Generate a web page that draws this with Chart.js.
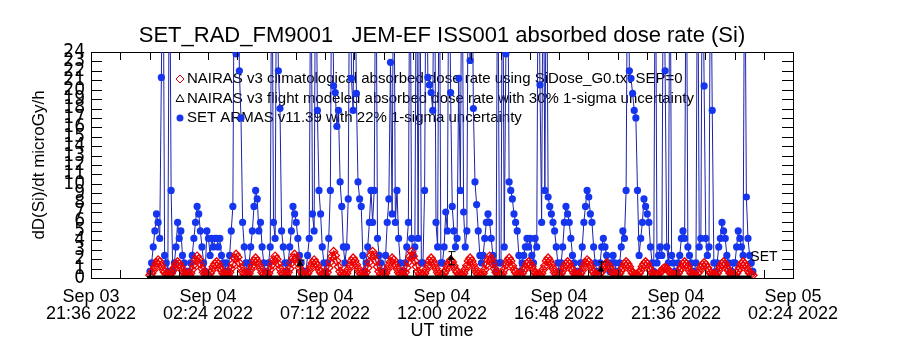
<!DOCTYPE html>
<html><head><meta charset="utf-8">
<script src="https://cdn.jsdelivr.net/npm/chart.js@4.4.0/dist/chart.umd.min.js"></script>
<style>html,body{margin:0;padding:0;background:#fff}#wrap{width:900px;height:350px;position:relative}</style>
</head><body><div id="wrap"><canvas id="c"></canvas></div>
<script>
const chartTitle = 'SET_RAD_FM9001   JEM-EF ISS001 absorbed dose rate (Si)';
const yAxisTitle = 'dD(Si)/dt microGy/h';
const xAxisTitle = 'UT time';
const xTickLabels = [['Sep 03','21:36 2022'],['Sep 04','02:24 2022'],['Sep 04','07:12 2022'],['Sep 04','12:00 2022'],['Sep 04','16:48 2022'],['Sep 04','21:36 2022'],['Sep 05','02:24 2022']];
const seriesNames = ['NAIRAS v3 climatological absorbed dose rate using SiDose_G0.txt SEP=0',
  'NAIRAS v3 flight modeled absorbed dose rate with 30% 1-sigma uncertainty',
  'SET ARMAS v11.39 with 22% 1-sigma uncertainty'];
const endLabel = 'SET';

// x in hours after Sep 03 21:36 UT; samples every 4 minutes
const sampleStartHour = 2.42;
const sampleStepHours = 4 / 60;

const climatologicalDose = [
 0.3,0.5,0.8,1.2,1.6,1.9,1.7,1.3,0.9,0.6,0.4,0.3,
 0.3,0.5,0.8,1.1,1.5,1.7,1.5,1.2,0.8,0.5,0.4,0.3,
 0.3,0.5,0.9,1.4,1.9,2.3,2.0,1.5,1.0,0.6,0.4,0.3,
 0.3,0.5,0.8,1.2,1.5,1.7,1.5,1.1,0.8,0.5,0.4,0.3,
 0.3,0.6,1.0,1.5,2.1,2.5,2.2,1.6,1.1,0.7,0.4,0.3,
 0.3,0.5,0.9,1.3,1.8,2.1,1.8,1.4,1.0,0.6,0.4,0.3,
 0.3,0.5,0.9,1.4,1.9,2.3,2.0,1.5,1.0,0.6,0.4,0.3,
 0.3,0.6,1.0,1.6,2.1,2.5,2.1,1.6,1.1,0.7,0.4,0.3,
 0.3,0.5,0.8,1.2,1.6,1.9,1.6,1.3,0.9,0.6,0.4,0.3,
 0.3,0.6,1.1,1.7,2.3,2.8,2.4,1.8,1.2,0.7,0.4,0.3,
 0.3,0.5,0.9,1.3,1.8,2.1,1.8,1.4,1.0,0.6,0.4,0.3,
 0.3,0.6,1.1,1.7,2.4,2.8,2.4,1.8,1.2,0.7,0.4,0.3,
 0.3,0.5,0.9,1.3,1.7,2.1,1.9,1.4,1.0,0.6,0.4,0.3,
 0.3,0.6,1.1,1.7,2.3,2.8,2.3,1.8,1.2,0.7,0.4,0.3,
 0.3,0.5,0.9,1.3,1.8,2.1,1.8,1.4,1.0,0.6,0.4,0.3,
 0.3,0.5,0.8,1.2,1.6,1.9,1.7,1.3,0.9,0.6,0.4,0.3,
 0.3,0.5,0.9,1.3,1.8,2.1,1.8,1.4,1.0,0.6,0.4,0.3,
 0.3,0.5,0.9,1.4,1.9,2.3,2.0,1.5,1.0,0.6,0.4,0.3,
 0.3,0.5,0.9,1.4,1.8,2.1,1.8,1.3,0.9,0.6,0.4,0.3,
 0.3,0.5,0.8,1.1,1.5,1.7,1.5,1.2,0.8,0.5,0.4,0.3,
 0.3,0.5,0.9,1.3,1.8,2.1,1.8,1.4,1.0,0.6,0.4,0.3,
 0.3,0.5,0.8,1.2,1.5,1.7,1.5,1.1,0.8,0.5,0.4,0.3,
 0.3,0.5,0.8,1.2,1.6,1.9,1.7,1.3,0.9,0.6,0.4,0.3,
 0.3,0.5,0.7,1.1,1.4,1.6,1.4,1.1,0.8,0.5,0.4,0.3,
 0.3,0.5,0.8,1.1,1.5,1.7,1.5,1.2,0.8,0.5,0.4,0.3,
 0.3,0.5,0.8,1.2,1.5,1.7,1.5,1.1,0.8,0.5,0.4,0.3,
 0.3,0.4,0.6,0.8,1.0,1.1,1.0,0.8,0.6,0.4,0.3,0.3,
 0.3,0.5,0.8,1.1,1.5,1.7,1.5,1.2,0.8,0.5,0.4,0.3,
 0.3,0.5,0.7,1.1,1.4,1.6,1.4,1.1,0.8,0.5,0.4,0.3,
 0.3,0.5,0.8,1.2,1.5,1.7,1.5,1.1,0.8,0.5,0.4,0.3,
 0.3,0.5,0.8,1.1,1.5,1.7,1.5,1.2,0.8,0.5,0.4,0.3
];

const armasDose = [
 0.7,1.6,3.3,5.0,6.8,5.9,4.2,21.3,40,2.4,1.6,0.7,
 40,9.3,0.7,1.6,3.3,5.9,4.2,5.0,2.4,1.6,0.7,0.7,
 0.7,1.6,2.4,4.2,5.9,7.6,6.8,5.0,3.3,1.6,0.7,5.0,
 4.2,2.4,4.2,3.3,4.2,4.2,3.3,4.2,2.4,1.6,0.7,1.6,
 0.7,2.4,5.0,7.6,40,23.8,40,22.0,17.0,5.9,3.3,1.6,
 0.7,1.6,3.3,5.0,7.6,9.3,8.4,5.0,5.9,3.3,1.6,0.7,
 0.7,1.6,3.3,40,5.9,4.2,40,22.0,18.0,5.0,3.3,1.6,
 0.7,1.6,3.3,5.0,7.6,6.8,5.9,4.2,2.4,1.6,0.7,0.7,
 0.7,2.4,4.2,40,6.8,5.0,40,17.8,9.3,6.8,3.3,1.6,
 0.7,1.6,4.2,9.3,40,20.4,19.7,16.1,17.8,10.2,7.6,3.3,
 1.6,3.3,8.4,40,21.2,17.8,40,19.6,10.2,8.4,7.6,2.4,
 0.7,1.6,3.3,5.9,9.3,5.9,9.3,40,4.2,2.4,1.6,0.7,
 0.7,2.4,5.9,8.4,22.9,6.8,40,5.9,9.3,4.2,1.6,0.7,
 0.7,1.6,3.3,5.9,40,4.2,2.4,3.3,40,4.2,40,1.6,
 1.6,9.3,40,21.3,20.5,19.7,17.8,40,5.9,3.3,40,1.6,
 1.6,3.3,7.0,5.0,40,19.7,7.6,5.0,3.3,4.2,21.2,9.3,
 40,7.0,3.3,5.0,40,23.1,40,18.0,10.2,7.8,5.0,2.4,
 1.6,2.4,4.2,5.9,6.8,5.9,4.2,2.4,1.6,0.7,40,1.6,
 1.6,40,3.3,23.8,40,10.2,9.3,8.4,6.8,5.9,5.0,2.4,
 0.7,1.6,2.4,3.3,4.2,3.3,4.2,2.4,1.6,4.2,3.3,40,
 20.5,5.9,40,9.3,40,8.6,7.6,6.8,5.9,5.0,3.3,1.6,
 0.7,1.6,3.3,5.9,7.6,6.8,5.9,4.2,2.4,1.6,0.7,0.7,
 0.7,1.6,3.3,5.9,7.6,9.3,8.6,6.8,5.9,3.3,1.6,0.7,
 0.7,1.6,3.3,4.2,3.3,2.4,1.6,0.7,1.6,2.4,1.6,0.7,
 0.7,1.6,3.3,5.0,4.2,9.3,40,22.0,21.2,19.6,17.8,17.0,
 9.3,2.4,4.2,5.9,8.4,7.6,6.8,5.9,3.3,1.6,0.7,40,
 1.6,2.4,3.3,2.4,40,22.0,3.3,1.6,40,2.4,1.6,0.7,
 0.7,1.6,2.4,4.2,5.0,4.2,40,3.3,2.4,1.6,0.7,0.7,
 1.6,40,3.3,4.2,40,20.4,4.2,2.4,3.3,40,17.8,1.6,
 0.7,1.6,3.3,4.2,5.9,5.0,4.2,2.4,1.6,0.7,0.7,1.6,
 1.6,3.3,5.0,4.2,3.3,2.4,40,8.6,4.2,2.4,1.6,0.7
];

// flight-modeled series, every 24 minutes
const flightStartHour = 2.3;
const flightStepHours = 0.4;
const flightModeledDose = [
 0.05,0.05,0.05,0.05,0.05,0.05,0.05,0.05,0.05,0.05,0.05,0.05,0.05,0.05,0.05,0.05,
 0.05,0.05,0.05,0.05,0.05,0.05,0.05,0.05,0.05,0.05,0.05,0.05,0.05,0.05,0.05,0.05,
 0.05,0.05,0.05,0.05,0.05,0.05,0.05,0.05,0.05,0.05,0.05,0.05,0.05,0.05,0.05,0.05,
 0.05,0.05,0.05,0.05,0.05,0.05,0.05,0.05,0.05,0.05,0.05,0.05,0.05,0.05,0.05
];
// flight-modeled points carrying uncertainty bars
const flightErrHours = [8.57, 14.77, 20.92];
const flightErrDose = [1.5, 2.1, 0.9];
const flightErrLow = [0.1, 1.4, 0.1];
const flightErrHigh = [1.9, 2.8, 1.7];

const FONT = '"Liberation Sans", Arial, sans-serif';
const NARROW = '"DejaVu Sans Condensed", "Liberation Sans Narrow", "Liberation Sans", sans-serif';

const toXY = (vals, start, step) => vals.map((v, i) => ({x: start + i * step, y: v}));

const insideTicks = {
  id: 'insideTicks',
  afterDatasetsDraw(chart) {
    const {ctx, chartArea: a, scales} = chart;
    ctx.save();
    ctx.strokeStyle = '#000'; ctx.lineWidth = 1;
    ctx.beginPath();
    scales.y.ticks.forEach(t => {
      const p = Math.round(scales.y.getPixelForValue(t.value)) + 0.5;
      ctx.moveTo(a.left, p); ctx.lineTo(a.left + 11, p);
      ctx.moveTo(a.right, p); ctx.lineTo(a.right - 11, p);
    });
    scales.x.ticks.forEach(t => {
      const p = Math.round(scales.x.getPixelForValue(t.value)) + 0.5;
      ctx.moveTo(p, a.bottom); ctx.lineTo(p, a.bottom - 8);
      ctx.moveTo(p, a.top); ctx.lineTo(p, a.top + 8);
    });
    ctx.stroke();
    ctx.restore();
  }
};

const errorBars = {
  id: 'errorBars',
  afterDatasetsDraw(chart) {
    const {ctx, scales: {x, y}} = chart;
    ctx.save();
    ctx.strokeStyle = '#000'; ctx.lineWidth = 1;
    ctx.beginPath();
    flightErrHours.forEach((h, i) => {
      const px = Math.round(x.getPixelForValue(h)) + 0.5;
      const lo = y.getPixelForValue(flightErrLow[i]);
      const hi = y.getPixelForValue(flightErrHigh[i]);
      ctx.moveTo(px, lo); ctx.lineTo(px, hi);
      ctx.moveTo(px - 3, lo); ctx.lineTo(px + 4, lo);
      ctx.moveTo(px - 3, hi); ctx.lineTo(px + 4, hi);
    });
    ctx.stroke();
    ctx.fillStyle = '#000';
    ctx.font = '14px ' + FONT;
    ctx.textBaseline = 'middle';
    ctx.fillText(endLabel, x.getPixelForValue(27.05), y.getPixelForValue(2.2));
    ctx.restore();
  }
};

const insideLegend = {
  id: 'insideLegend',
  beforeDatasetsDraw(chart) {
    const {ctx, chartArea: a} = chart;
    ctx.save();
    ctx.font = '15px ' + FONT;
    ctx.textBaseline = 'middle';
    chart.data.datasets.filter(d => d.legendMarker).forEach((d, i) => {
      const y = a.top + 27 + i * 19.5;
      const mx = a.left + 89;
      ctx.lineWidth = 1;
      if (d.legendMarker === 'diamond') {
        ctx.strokeStyle = '#e00000';
        ctx.beginPath(); ctx.moveTo(mx, y - 4); ctx.lineTo(mx + 4, y); ctx.lineTo(mx, y + 4); ctx.lineTo(mx - 4, y); ctx.closePath(); ctx.stroke();
      } else if (d.legendMarker === 'triangle') {
        ctx.strokeStyle = '#000';
        ctx.beginPath(); ctx.moveTo(mx, y - 4); ctx.lineTo(mx + 4, y + 3); ctx.lineTo(mx - 4, y + 3); ctx.closePath(); ctx.stroke();
      } else {
        ctx.fillStyle = '#1535ee';
        ctx.beginPath(); ctx.arc(mx, y, 3.5, 0, Math.PI * 2); ctx.fill();
      }
      ctx.fillStyle = '#000';
      ctx.fillText(d.label, mx + 7, y);
    });
    ctx.restore();
  }
};

new Chart(document.getElementById('c'), {
  type: 'scatter',
  data: {
    datasets: [
      {
        label: seriesNames[0], legendMarker: 'diamond', order: 2,
        data: toXY(climatologicalDose, sampleStartHour, sampleStepHours),
        showLine: true, borderColor: '#ee0000', borderWidth: 1.5,
        pointStyle: 'rectRot', pointRadius: 4.2,
        pointBorderColor: '#ee0000', pointBackgroundColor: 'rgba(0,0,0,0)', pointBorderWidth: 1.3
      },
      {
        label: seriesNames[1], legendMarker: 'triangle', order: 1,
        data: toXY(flightModeledDose, flightStartHour, flightStepHours),
        showLine: true, borderColor: '#000', borderWidth: 4, pointRadius: 0
      },
      {
        label: seriesNames[2], legendMarker: 'dot', order: 3,
        data: toXY(armasDose, sampleStartHour, sampleStepHours),
        showLine: true, borderColor: '#1a22a8', borderWidth: 1,
        pointRadius: 3.6, pointBackgroundColor: '#1535ee', pointBorderWidth: 0
      },
      {
        label: 'flight modeled points', order: 0,
        data: flightErrHours.map((h, i) => ({x: h, y: flightErrDose[i]})),
        showLine: false, pointStyle: 'triangle', pointRadius: 3,
        pointBorderColor: '#000', pointBackgroundColor: '#000', pointBorderWidth: 1
      }
    ]
  },
  options: {
    responsive: true, maintainAspectRatio: false, animation: false,
    layout: {padding: 0},
    plugins: {legend: {display: false}, tooltip: {enabled: false}, title: {display: false}},
    scales: {
      x: {
        type: 'linear', position: 'bottom', min: 0, max: 28.8,
        afterFit: s => { s.height = 72; },
        grid: {drawOnChartArea: false, drawTicks: false},
        border: {display: true, color: '#000', width: 1},
        ticks: {
          stepSize: 1.2, autoSkip: false, maxRotation: 0, padding: 10, color: '#000',
          font: {family: FONT, size: 18, lineHeight: 0.95},
          callback: v => { const k = v / 4.8, r = Math.round(k); return Math.abs(k - r) < 1e-6 ? xTickLabels[r] : ''; }
        },
        title: {display: true, text: xAxisTitle, color: '#000', font: {family: FONT, size: 18}, padding: {top: 0, bottom: 8}}
      },
      x2: {
        type: 'linear', position: 'top', min: 0, max: 28.8,
        afterFit: s => { s.height = 52; },
        grid: {drawOnChartArea: false, drawTicks: false},
        border: {display: true, color: '#000', width: 1},
        ticks: {display: false},
        title: {display: true, text: chartTitle, color: '#000', font: {family: FONT, size: 22}, padding: {top: 23, bottom: 0}}
      },
      y: {
        type: 'linear', position: 'left', min: 0, max: 24,
        afterFit: s => { s.width = 91; },
        grid: {drawOnChartArea: false, drawTicks: false},
        border: {display: true, color: '#000', width: 1},
        ticks: {stepSize: 1, autoSkip: false, padding: 6, color: '#000', font: {family: NARROW, size: 19}},
        title: {display: true, text: yAxisTitle, color: '#000', font: {family: FONT, size: 17}, padding: {top: 29, bottom: 0}}
      },
      y2: {
        type: 'linear', position: 'right', min: 0, max: 24,
        afterFit: s => { s.width = 107; },
        grid: {drawOnChartArea: false, drawTicks: false},
        border: {display: true, color: '#000', width: 1},
        ticks: {display: false}
      }
    }
  },
  plugins: [insideLegend, insideTicks, errorBars]
});
</script>
</body></html>
